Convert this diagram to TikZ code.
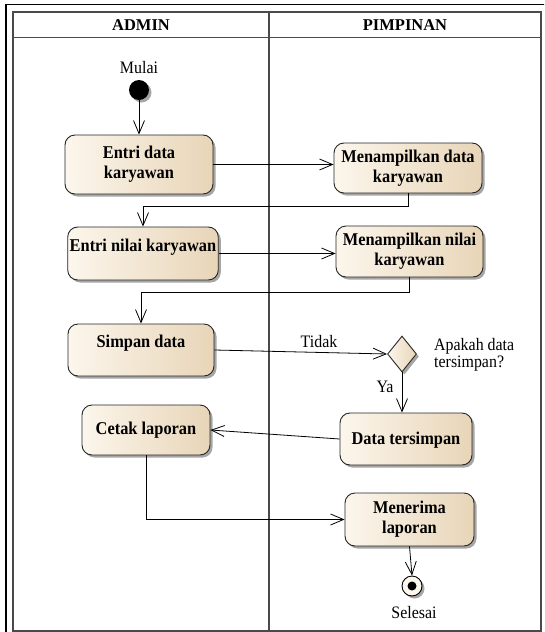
\documentclass[tikz,border=0pt]{standalone}
\usepackage{fontspec}
\setmainfont{Liberation Serif}
\newfontfamily\narrowserif[FakeStretch=0.91]{Liberation Serif}
\usetikzlibrary{arrows.meta,shapes.geometric,shadows,calc}
\definecolor{boxL}{HTML}{FCF6EC}
\definecolor{boxR}{HTML}{E8D5B8}
\definecolor{lane}{HTML}{4A4A4A}
\begin{document}
\begin{tikzpicture}[x=1pt,y=-1pt,
  shadowed/.style={drop shadow={shadow xshift=2.5pt,shadow yshift=-2.5pt,fill=black!35,opacity=1}},
  act/.style={draw=black!85, line width=0.9pt, rounded corners=10pt,
    left color=boxL, right color=boxR, shadowed,
    font=\narrowserif\fontsize{18}{20}\selectfont\bfseries, align=center, inner sep=2pt},
  lbl/.style={font=\narrowserif\fontsize{17.5}{17}\selectfont, inner sep=1pt},
  hdr/.style={font=\fontsize{16.5}{16}\selectfont\bfseries, inner sep=1pt},
  arr/.style={draw=black, line width=0.8pt, -{Straight Barb[length=13pt,width=11pt,line width=0.8pt]}},
  initnode/.style={circle, fill=black, minimum size=20pt, inner sep=0pt, shadowed},
  finalnode/.style={circle, draw=black, line width=0.9pt, fill=boxL, minimum size=20pt, inner sep=0pt, shadowed},
  decision/.style={diamond, draw=black!85, line width=0.9pt, left color=boxL, right color=boxR,
    minimum width=29pt, minimum height=36pt, inner sep=0pt, aspect=0.8, shadowed}
]
\useasboundingbox (0,0) rectangle (544,632);
\clip (0,0) rectangle (544,632);
\fill[white] (0,0) rectangle (544,632);
% outer frame
\draw[black, line width=1.6pt] (6,4.5) rectangle (560,650);
% swimlanes
\draw[lane, line width=1.3pt] (13,12) rectangle (541,631);
\draw[lane, line width=1.3pt] (13,37.7) -- (541,37.7);
\draw[lane, line width=1.3pt] (269,12) -- (269,631);
\node[hdr] (hA) at (141,25) {ADMIN};
\node[hdr] (hP) at (405,25) {PIMPINAN};

% nodes
\node[lbl] (mulai) at (139,68) {Mulai};
\node[initnode] (start) at (139,90) {};
\node[act, minimum width=148pt, minimum height=59pt] (e1) at (139,164.5) {Entri data\\karyawan};
\node[act, minimum width=148pt, minimum height=50pt] (m1) at (408,168) {Menampilkan data\\karyawan};
\node[act, minimum width=148pt, minimum height=53pt, text depth=16pt] (e2) at (143,253.5) {Entri nilai karyawan};
\node[act, minimum width=147pt, minimum height=51pt] (m2) at (409.5,251.5) {Menampilkan nilai\\karyawan};
\node[act, minimum width=146pt, minimum height=52pt, text depth=17pt] (s) at (141,350) {Simpan data};
\node[decision] (d) at (402,354) {};
\node[lbl, anchor=west, align=left] (q) at (433,355) {Apakah data\\tersimpan?};
\node[act, minimum width=128pt, minimum height=50pt] (c) at (146,430) {Cetak laporan};
\node[act, minimum width=132pt, minimum height=52pt, text height=15pt] (dt) at (406,439) {Data tersimpan};
\node[act, minimum width=129pt, minimum height=53pt] (mr) at (409.5,519.5) {Menerima\\laporan};
\node[finalnode] (end) at (412,586) {};
\fill[black] (end.center) circle (4.5pt);
\node[lbl] (selesai) at (414,613) {Selesai};

% connectors
\draw[arr] (start) -- (e1);
\draw[arr] (e1.east) -- (e1.east -| m1.west);
\draw[arr] (m1.south) -- ++(0,13) -| (e2.north);
\draw[arr] (e2.east) -- (e2.east -| m2.west);
\draw[arr] (m2.south) -- ++(0,15) -| (s.north);
\draw[arr] (s.east) -- (d.west);
\node[lbl] (tidak) at (319,342) {Tidak};
\draw[arr] (d.south) -- (d.south |- dt.north);
\node[lbl] (ya) at (385,387) {Ya};
\draw[arr] (dt.west) -- (c.east);
\draw[arr] (c.south) |- (mr.west);
\draw[arr] (mr.south) -- (end.north);
\end{tikzpicture}
\end{document}
